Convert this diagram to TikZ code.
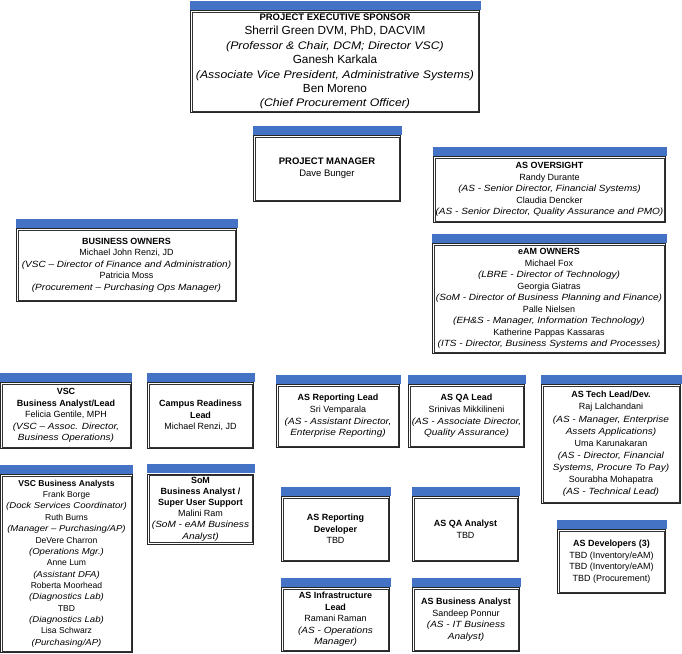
\documentclass[tikz,border=0pt]{standalone}
\usepackage{fontspec}
\setmainfont{Liberation Sans}[ItalicFeatures={FakeStretch=1.12}]
\usepackage{tikz}
\definecolor{barblue}{RGB}{68,114,196}

\begin{document}
\begin{tikzpicture}[x=1bp,y=-1bp,
    orgbox/.style={draw=black!85,line width=1pt,fill=white,align=center,inner sep=0pt,
      font=\fontsize{9}{11.6}\selectfont},
    sz/.style 2 args={minimum width=#1bp,minimum height=#2bp}]
  \useasboundingbox (0,0) rectangle (682,654);
  % top of the chart
  \node[orgbox,sz={289}{102},font=\fontsize{11.8}{14.4}\selectfont] (sponsor) at (335,61.5)
    {{\fontsize{9.5}{14.4}\selectfont\bfseries PROJECT EXECUTIVE SPONSOR}\\Sherril Green DVM, PhD, DACVIM\\
     {\fontsize{11}{14.4}\selectfont\itshape (Professor \& Chair, DCM; Director VSC)}\\Ganesh Karkala\\
     {\fontsize{11}{14.4}\selectfont\itshape (Associate Vice President, Administrative Systems)}\\Ben Moreno\\
     {\fontsize{11}{14.4}\selectfont\itshape (Chief Procurement Officer)}};
  \node[orgbox,sz={147}{66},font=\fontsize{9.5}{12}\selectfont] (pm) at (327,168.5)
    {\textbf{PROJECT MANAGER}\\Dave Bunger};
  \node[orgbox,sz={232}{66}] (oversight) at (549.5,189.5)
    {\textbf{AS OVERSIGHT}\\Randy Durante\\\textit{(AS - Senior Director, Financial Systems)}\\
     Claudia Dencker\\\textit{(AS - Senior Director, Quality Assurance and PMO)}};
  \node[orgbox,sz={220}{73}] (bizowners) at (126.5,265)
    {\textbf{BUSINESS OWNERS}\\Michael John Renzi, JD\\\textit{(VSC – Director of Finance and Administration)}\\
     Patricia Moss\\\textit{(Procurement – Purchasing Ops Manager)}};
  \node[orgbox,sz={233}{110}] (eamowners) at (549,298.5)
    {\textbf{eAM OWNERS}\\Michael Fox\\\textit{(LBRE - Director of Technology)}\\Georgia Giatras\\
     \textit{(SoM - Director of Business Planning and Finance)}\\Palle Nielsen\\
     \textit{(EH\&S - Manager, Information Technology)}\\Katherine Pappas Kassaras\\
     \textit{(ITS - Director, Business Systems and Processes)}};
  % leads
  \node[orgbox,sz={131}{66}] (vsclead) at (66,415.5)
    {\textbf{VSC}\\\textbf{Business Analyst/Lead}\\Felicia Gentile, MPH\\
     \textit{(VSC – Assoc. Director,}\\\textit{Business Operations)}};
  \node[orgbox,sz={106}{66}] (campus) at (200.5,415.5)
    {\textbf{Campus Readiness}\\\textbf{Lead}\\Michael Renzi, JD};
  \node[orgbox,sz={123}{63}] (replead) at (338,416)
    {\textbf{AS Reporting Lead}\\Sri Vemparala\\\textit{(AS - Assistant Director,}\\
     \textit{Enterprise Reporting)}};
  \node[orgbox,sz={116}{63}] (qalead) at (466.5,416)
    {\textbf{AS QA Lead}\\Srinivas Mikkilineni\\\textit{(AS - Associate Director,}\\
     \textit{Quality Assurance)}};
  \node[orgbox,sz={139}{119},font=\fontsize{9}{12.2}\selectfont] (techlead) at (611,444)
    {\textbf{AS Tech Lead/Dev.}\\Raj Lalchandani\\\textit{(AS - Manager, Enterprise}\\
     \textit{Assets Applications)}\\Uma Karunakaran\\\textit{(AS - Director, Financial}\\
     \textit{Systems, Procure To Pay)}\\Sourabha Mohapatra\\\textit{(AS - Technical Lead)}};
  % analysts and developers
  \node[orgbox,sz={132}{178},font=\fontsize{8.6}{11.4}\selectfont] (vscba) at (66.5,563.5)
    {\textbf{VSC Business Analysts}\\Frank Borge\\\textit{(Dock Services Coordinator)}\\
     Ruth Burns\\\textit{(Manager – Purchasing/AP)}\\DeVere Charron\\\textit{(Operations Mgr.)}\\
     Anne Lum\\\textit{(Assistant DFA)}\\Roberta Moorhead\\\textit{(Diagnostics Lab)}\\
     TBD\\\textit{(Diagnostics Lab)}\\Lisa Schwarz\\\textit{(Purchasing/AP)}};
  \node[orgbox,sz={106}{70},font=\fontsize{9}{11.2}\selectfont] (som) at (200.5,509)
    {\textbf{SoM}\\\textbf{Business Analyst /}\\\textbf{Super User Support}\\Malini Ram\\
     \textit{(SoM - eAM Business}\\\textit{Analyst)}};
  \node[orgbox,sz={108}{65}] (repdev) at (335.5,529)
    {\textbf{AS Reporting}\\\textbf{Developer}\\TBD};
  \node[orgbox,sz={106}{65}] (qaanalyst) at (465.5,529)
    {\textbf{AS QA Analyst}\\TBD};
  \node[orgbox,sz={108}{64}] (devs) at (611.5,561.5)
    {\textbf{AS Developers (3)}\\TBD (Inventory/eAM)\\TBD (Inventory/eAM)\\TBD (Procurement)};
  \node[orgbox,sz={108}{64}] (infra) at (335.5,619.5)
    {\textbf{AS Infrastructure}\\\textbf{Lead}\\Ramani Raman\\\textit{(AS - Operations}\\
     \textit{Manager)}};
  \node[orgbox,sz={107}{64}] (asba) at (466,619.5)
    {\textbf{AS Business Analyst}\\Sandeep Ponnur\\\textit{(AS - IT Business}\\\textit{Analyst)}};
  % blue bar on top and inner line of every box
  \foreach \n in {sponsor,pm,oversight,bizowners,eamowners,vsclead,campus,replead,qalead,
      techlead,vscba,som,repdev,qaanalyst,devs,infra,asba}{
    \fill[barblue] ([xshift=-0.5pt,yshift=0.5pt]\n.north west) rectangle ([xshift=0.5pt,yshift=9.5pt]\n.north east);
    \draw[black!80,line width=0.5pt] ([xshift=2.2pt,yshift=-2.2pt]\n.north west) rectangle ([xshift=-2.2pt,yshift=2.2pt]\n.south east);
  }
\end{tikzpicture}
\end{document}
